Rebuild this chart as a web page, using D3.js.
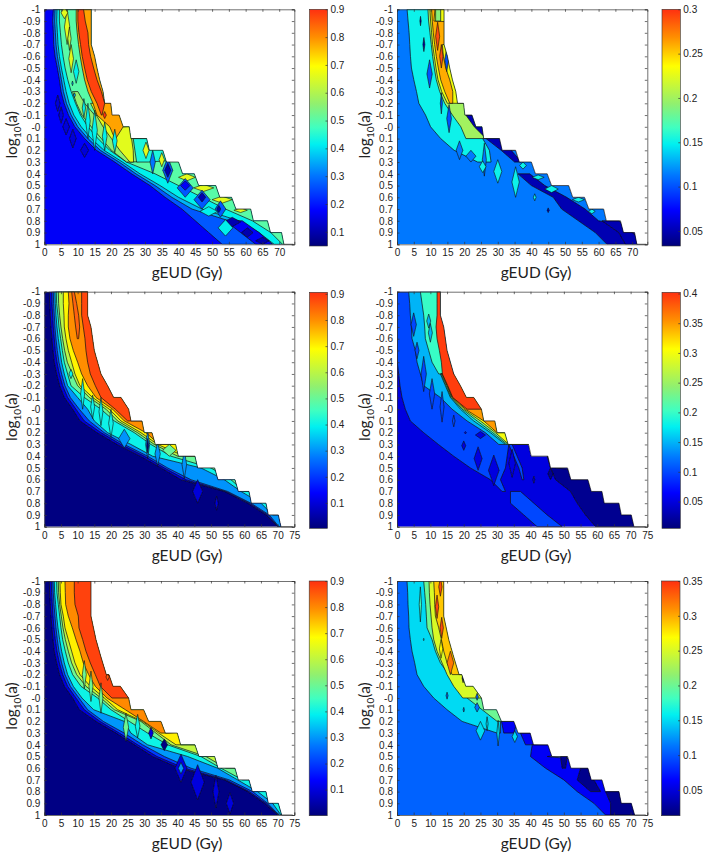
<!DOCTYPE html>
<html>
<head>
<meta charset="utf-8">
<script src="https://cdn.jsdelivr.net/npm/d3@7"></script>
<style>
  body { margin: 0; background: #fff; }
  svg { display: block; }
  .tick text { font-family: "Liberation Sans", Arial, sans-serif; font-size: 10px; fill: #222; font-weight: 500; }
  .axis path, .axis line { stroke: #333; stroke-width: 0.7; }
  .lab { font-family: Lato, "Open Sans", sans-serif; font-size: 15.5px; fill: #222; }
</style>
</head>
<body>
<script>
var rows = d3.range(21).map(function(i) { return -1 + i / 10; });
var yTickLabels = ["-1","-0.9","-0.8","-0.7","-0.6","-0.5","-0.4","-0.3","-0.2","-0.1","-0","0.1","0.2","0.3","0.4","0.5","0.6","0.7","0.8","0.9","1"];
var xTicksShort = [0,5,10,15,20,25,30,35,40,45,50,55,60,65,70];
var xTicksLong = [0,5,10,15,20,25,30,35,40,45,50,55,60,65,70,75];

// colour bar as printed (position 0-1 along the bar, colour)
var barPos = [0, 0.15, 0.3, 0.43, 0.5, 0.6, 0.76, 0.88, 1];
var barCol = ["#00007a", "#0000ff", "#0078ff", "#00f0f0", "#40ffc0", "#90f070", "#ffff00", "#ff9000", "#ff3010"];

// edge of the computed region, gEUD / log10(a)
var edgeTopX = [14,14,15,15.7,16.5,17.5,18,19.8,20.2,22.3,23.5,25.3,25.8,30.5,31.3,35.3,36.4,40,41.2,44.7,46,51.1,52.3,55.8,57.1,61.5,62.3,66.5,67.4,70.7,71.4,74.2];
var edgeTopY = [-1,-0.7,-0.6,-0.5,-0.4,-0.3,-0.2,-0.2,-0.1,-0.1,0,0,0.1,0.1,0.2,0.2,0.3,0.3,0.4,0.4,0.5,0.5,0.6,0.6,0.7,0.7,0.8,0.8,0.9,0.9,1,1];
var edgeMidX = [13,13,14,15,17,19,20.8,23,25.3,26,29.3,30,32.3,33.3,39.4,40.2,45.2,46,51.1,52.1,57.2,58.2,61.4,62.1,66.5,67.2,70.2,71,74.5];
var edgeMidY = [-1,-0.8,-0.7,-0.5,-0.3,-0.2,-0.1,-0.1,0,0.1,0.1,0.2,0.2,0.3,0.3,0.4,0.4,0.5,0.5,0.6,0.6,0.7,0.7,0.8,0.8,0.9,0.9,1,1];
var edgeLowX = [14,14,15.5,17,18.6,19.4,20.6,22.8,25.3,26,29.8,31.3,35,36.3,39.9,40.9,45.2,46.4,51.1,52.1,57.2,58.2,61.4,62.4,66.5,67.2,70.2,71.2,74.5];
var edgeLowY = [-1,-0.7,-0.5,-0.35,-0.2,-0.2,-0.1,-0.1,0,0.1,0.1,0.2,0.2,0.3,0.3,0.4,0.4,0.5,0.5,0.6,0.6,0.7,0.7,0.8,0.8,0.9,0.9,1,1];

// contour layers: level, first row index, left edge per row, right edge per row (null = runs to the region edge)
var p1Base = 0.17;
var p1Layers = [
  [0.27,0,[2.7,2.5,2.7,2.8,3.2,3.9,4.5,5,5.9,7.2,9.1,12,15.5,21,26,31.5,36,41,45,49,53]],
  [0.36,0,[3.2,3.1,3.3,3.5,3.9,4.5,5.1,5.7,6.6,8,10,13,16.7,22.3,27.3,33,38,44,55,62,67]],
  [0.42,0,[3.8,3.7,3.9,4.1,4.5,5.1,5.8,6.5,7.4,8.8,11,14,17.8,23.3,28.5,34.5,40,47,58,64,68.5]],
  [0.5,0,[4.5,4.5,4.8,5.1,5.6,6.2,7,8,9.3,10.8,13,16,19.5,24.5,33,40,47,54,62,67.5,71]],
  [0.56,7,[8.4,9.6,11.2,14,17,20,24.5],[10,12,15,null,null,null,26]],
  [0.66,8,[13.8,15.5,17.5,20,22.5,25.5],[null,null,null,26,26.5,26.6]],
  [0.44,11,[26.5,27,27.5],[null,null,31]],
  [0.78,0,[9.5,9.5,9.8,10.2,10.7,11.3,12,13,14.5,15.7,19.5,21],[null,null,null,null,null,null,null,null,null,null,23.5,21.3]],
  [0.88,0,[10,10,10.3,10.8,11.3,12,12.8,14,15.7,17],[11.7,12.2,13,13.2,13.8,14.7,15.7,17,18,17.2]],
  [0.17,18,[54,58.5,63],[59,64,68]]
];
var p1Islands = [
  [0.66,6.8,-0.85,0.8,0.15],[0.66,8,-0.58,0.7,0.12],[0.66,6,-0.97,1,0.05],[0.62,7.5,-0.75,0.5,0.1],
  [0.42,9.5,-0.47,0.8,0.1],[0.36,8.4,-0.37,0.2,0.02],[0.36,9,-0.27,0.3,0.02],[0.42,11.8,-0.16,0.5,0.08],
  [0.42,13,-0.05,0.7,0.15],[0.42,15,0.03,0.8,0.17],[0.42,18,0.08,0.7,0.12],[0.42,21,0.12,0.7,0.1],
  [0.14,4,-0.2,0.7,0.07],[0.14,5,-0.1,0.7,0.07],[0.14,6.5,0,1,0.07],[0.14,8.5,0.1,1,0.08],[0.14,12,0.2,1.2,0.06],
  [0.66,30.3,0.2,0.9,0.07],[0.66,35,0.28,0.8,0.06],[0.66,42.5,0.43,2.5,0.03],[0.66,47.5,0.52,3,0.03],[0.66,53,0.62,3,0.03],[0.66,58.5,0.71,2,0.02],
  [0.3,32.3,0.3,0.8,0.1],[0.27,36.8,0.37,1.5,0.11],[0.1,36.8,0.37,0.9,0.06],[0.27,42,0.52,2.4,0.08],[0.17,42,0.5,1.4,0.04],
  [0.27,47,0.62,2.4,0.08],[0.1,47,0.6,1.1,0.04],[0.27,52.5,0.7,1.6,0.07],[0.1,52,0.7,0.6,0.03],
  [0.1,56,0.81,2.5,0.04],[0.1,60.5,0.9,1.7,0.04],[0.1,65,0.97,2,0.03],
  [0.42,49,0.72,2.6,0.04],[0.42,54,0.86,2.2,0.07],[0.9,18,-0.1,0.5,0.03]
];

var p2Base = 0.113;
var p2Layers = [
  [0.15,0,[3,3.3,3.6,3.8,4,4.3,5,5.8,6.5,8.5,10,13,17,24],[null,null,null,null,null,null,null,null,null,null,null,25.5,27.5,28]],
  [0.2,0,[9.2,9.4,9.8,10.2,10.6,11.1,11.7,12.7,14.2,16.5,19,20.5]],
  [0.23,0,[9.8,10,10.3,10.6,11.1,11.6,12.2,13.3,15]],
  [0.26,0,[10.3,10.5,10.8,11.2,11.7,12.3,13,14.2,15.7],[11.3,11,null,13.5,13.8,14.5,15.7,16.6,16.6]],
  [0.19,0,[11.5,11.5],[13,13]],
  [0.05,9,[20.5,23,26.5,31,35],[22.6,25.3,null,34,37]],
  [0.05,14,[36,40,46.5,49,54,59,62.5],[39.5,44,50.5,56,60,null,null]],
  [0.05,18,[61,66,68],[66,70,74]]
];
var p2Islands = [
  [0.05,7,-0.9,0.2,0.04],[0.05,8,-0.7,0.3,0.06],[0.1,9.7,-0.45,0.8,0.12],[0.1,13.2,-0.2,0.3,0.09],
  [0.1,15.5,-0.07,0.7,0.12],[0.1,14.8,-0.57,0.6,0.1],[0.29,12.1,-0.77,0.6,0.12],[0.29,13.2,-0.6,0.5,0.1],
  [0.113,18.6,0.2,1,0.08],[0.113,26,0.28,0.6,0.14],[0.113,22,0.25,1.5,0.05],
  [0.15,25.5,0.34,1,0.05],[0.15,30,0.38,1.2,0.1],[0.15,35.3,0.47,1.1,0.13],[0.15,37.5,0.33,1,0.03],
  [0.15,42,0.43,1.8,0.02],[0.15,46,0.53,2,0.03],[0.15,54,0.62,1.8,0.02],[0.15,58,0.72,1,0.02],[0.15,41,0.6,0.4,0.03],[0.05,45,0.71,0.3,0.02]
];

var p3Base = 0.01;
var p3Layers = [
  [0.1,0,[1.5,1.6,1.8,2,2.3,2.6,3,3.7,4.6,6,8.5,10.7,15.8,21.8,28.8,35,41,54,61,66.5,70]],
  [0.2,0,[2.2,2.3,2.5,2.7,3,3.3,3.8,4.5,5.5,7,9.5,12,17,23,30,36,42.5,54.5,61.5,67,70.2]],
  [0.3,0,[2.7,2.8,3,3.2,3.5,3.9,4.4,5.2,6.2,7.8,10.5,13.5,18,24,31,37,44,55,62,67.5,70.4]],
  [0.4,0,[3.2,3.3,3.5,3.8,4.2,4.7,5.2,6,7,10,13,15,19,26,32.5,47,54,59,65,68.5]],
  [0.5,0,[3.6,3.7,4.1,4.4,4.9,5.4,6,7,8,12,17,21,27,32,38,50,56,60]],
  [0.6,0,[4.2,4.3,4.6,5,5.5,6.1,6.9,8.4,10,13.5,18.5,22,28,33,40]],
  [0.7,0,[5.7,5.7,5.9,6,6.5,7.2,8.2,9.2,10.7,14.5,19.5,23,29,34,42]],
  [0.8,0,[7.2,7.4,7.2,7.2,7.7,8.7,10,11.2,13,15.5,20.5,24,30.5,34.5],[null,null,null,null,null,null,null,null,null,null,null,null,null,36.5]],
  [0.88,0,[11.2,11.2,11.2,11.7,12.2,12.5,13,13.8,15.3,17,21.3,25]],
  [0.85,0,[8.2,8.6,9,9.4,9.9],[9,9.7,10.3,10.6,10.3]]
];
var p3Islands = [
  [0.3,24,0.25,1.7,0.08],[0.4,11.5,-0.13,0.6,0.13],[0.4,8,-0.3,0.6,0.04],[0.4,14.5,-0.02,0.6,0.1],[0.4,17,0.02,0.6,0.12],
  [0.4,20,0.12,0.7,0.12],[0.3,31,0.3,0.6,0.12],[0.3,34,0.38,0.8,0.1],[0.3,42,0.47,0.7,0.12],
  [0.1,46,0.7,1.5,0.1],[0.1,51.7,0.8,0.5,0.06],[0.01,31,0.31,0.3,0.06],[0.5,37.5,0.35,2,0.05]
];

var p4Base = 0.05;
var p4Layers = [
  [0.1,0,[0,0,0,0,0,0,0.1,0.5,0.9,1.5,2.5,4,8,12.4,17,22,28,31.5],[null,null,null,null,null,null,null,null,null,null,null,null,null,33.5,33,32.5,31,32.5]],
  [0.015,14,[45,46,47.5,52,54,56.5,59.5],[45.5,47.5,null,null,null,null,null]],
  [0.1,17,[34,34,38,42],[37,41,45,49.5]],
  [0.15,0,[3.5,3.8,4,4.3,4.5,5.5,6,7,8,13,16.5,21,26.5,30.5]],
  [0.2,0,[7,7.5,8,8.3,8.5,9.5,10.5,12.5],[null,null,null,null,null,null,null,13.5]],
  [0.18,7,[13,14.5,16,19,23,28,32.5]],
  [0.23,7,[13.2,14.7,16.2,19.5,24,28.7,33]],
  [0.3,7,[13.4,15,16.4,20,25,29.5,33.5]],
  [0.35,7,[13.6,15.1,16.6,20.5,26,30]],
  [0.395,0,[12,12,12,11.7,12,12.7,13.3,13.6,15.2,16.7,21]],
  [0.1,13,[33.5,35,36.5,37.5],[34.5,36,37.5,38]]
];
var p4Islands = [
  [0.1,5,-0.72,0.8,0.1],[0.1,6,-0.5,0.6,0.07],[0.1,8,-0.3,0.8,0.15],[0.1,10.5,-0.13,0.8,0.13],[0.1,13.5,-0.02,0.6,0.13],[0.1,17,0.1,0.4,0.05],
  [0.15,9.5,-0.75,0.6,0.06],[0.15,10,-0.65,0.6,0.08],[0.05,20.5,0.2,0.3,0.01],[0.05,25,0.22,1.5,0.03],
  [0.05,20,0.31,0.6,0.04],[0.05,24.3,0.42,1.2,0.1],[0.05,29,0.52,1.6,0.13],[0.05,34.5,0.46,1,0.12],[0.05,41,0.6,0.3,0.03],[0.015,46,0.55,0.8,0.05]
];

var p5Base = 0.01;
var p5Layers = [
  [0.1,0,[1.5,1.6,1.8,2,2.3,2.6,3,3.7,4.6,6,8.5,10.5,15.5,21.5,27,32.5,40.5,54,61,66,70]],
  [0.2,0,[2.1,2.2,2.4,2.6,2.9,3.3,3.8,4.5,5.5,7,9.5,12,16.7,22.5,28,33.8,42,54.5,61.5,66.5,70.2]],
  [0.3,0,[2.6,2.7,2.9,3.2,3.5,3.9,4.4,5.2,6.2,7.8,10.4,13,17.7,24,29.5,36,44,55.5,62.5,67,70.4]],
  [0.4,0,[3,3.1,3.4,3.7,4.1,4.6,5.2,6,7,8.7,11.3,14.8,24,26,31,43,52,58,64,68.5,71]],
  [0.5,0,[3.7,3.8,4.2,4.6,5,5.5,6.3,7.2,8.5,11,16,20,25.5,31,37,47,53,59.5]],
  [0.6,0,[4.2,4.3,4.6,5.1,5.6,6.3,7.2,8.2,9.7,12.5,17,21,29,33.5,38,48.5,54.5]],
  [0.7,0,[4.7,4.8,5,5.7,6.2,7.2,8.2,9.2,10.7,13.8,18,22,29.5,34.3,39.5]],
  [0.8,0,[6.2,6.3,6.4,7.2,8.4,9.5,10.7,11.7,13.3,15.3,18.8,24.3,29.8,35],[null,null,null,null,null,null,null,null,null,null,null,null,null,37]],
  [0.88,0,[9,9,9.2,10.2,10.4,11.5,12.5,13.8,15.3,16.8,20.3]]
];
var p5Islands = [
  [0.1,41,0.6,1.8,0.12],[0.3,41,0.6,0.8,0.05],[0.1,46,0.72,2,0.15],[0.1,51.5,0.8,0.9,0.14],[0.1,55.7,0.9,1.1,0.09],
  [0.01,36,0.4,1,0.05],[0.1,32,0.3,0.7,0.05],[0.4,28,0.24,0.7,0.1],[0.5,12,-0.2,0.6,0.12],[0.5,14,-0.1,0.6,0.13],[0.5,17,0,0.6,0.13],[0.5,24.5,0.25,0.8,0.12],
  [0.85,19,-0.18,0.5,0.03]
];

var p6Base = 0.105;
var p6Layers = [
  [0.15,0,[3,3.2,3.3,3.5,3.6,4,4.5,5.3,6,8,11,15,19.5,30],[null,null,null,null,null,null,null,null,null,null,null,null,31,31]],
  [0.2,0,[8,8.3,8.6,8.8,9,10.5,11.5,13,15.5,18.5,21,25.5,30]],
  [0.25,0,[9.6,9.7,9.9,10.2,10.5,11,12,13.5,15,17,19.7]],
  [0.29,0,[11,11.2,11.3,11.5,12.5,13.3,14,15,16.5]],
  [0.06,12,[31.3,32],[36,35]],
  [0.06,13,[37,38.5],[null,40]],
  [0.06,14,[40.5,40,44.5,50,54,59,62.5],[null,45,null,null,null,null,null]],
  [0.02,15,[49,49.5],[51,50.5]],
  [0.02,16,[55,54,58],[57.5,59,61]],
  [0.02,18,[62.5,64,64],[null,null,null]]
];
var p6Islands = [
  [0.18,7,-0.8,0.35,0.15],[0.105,15,-0.02,0.3,0.03],[0.105,24,-0.01,0.4,0.03],[0.11,24,0.08,0.7,0.04],[0.105,20,0.1,0.2,0.02],
  [0.15,25,0.28,1.3,0.08],[0.15,30.3,0.3,0.4,0.11],[0.15,27,0.22,0.3,0.06],[0.15,35.3,0.33,0.8,0.05],
  [0.34,13,-0.95,0.5,0.08],[0.34,12,-0.78,0.5,0.1],[0.34,13.4,-0.6,0.5,0.09],[0.27,13.2,-0.42,0.5,0.08],[0.02,19.8,-0.17,0.3,0.04],[0.32,16,-0.3,1,0.1],
  [0.15,8,-0.5,0.1,0.01]
];

var width = 704, height = 855;
var svg = d3.select("body").append("svg").attr("width", width).attr("height", height);
var defs = svg.append("defs");

// slight softening, the source picture is a scaled bitmap
var soft = defs.append("filter").attr("id", "soft").attr("x", "-5%").attr("y", "-5%").attr("width", "110%").attr("height", "110%");
soft.append("feGaussianBlur").attr("stdDeviation", 0.45);

var barScale = d3.scaleLinear().domain(barPos).range(barCol);

var grad = defs.append("linearGradient").attr("id", "bar")
    .attr("x1", 0).attr("y1", 1).attr("x2", 0).attr("y2", 0);
barPos.forEach(function(p, i) {
  grad.append("stop").attr("offset", p).attr("stop-color", barCol[i]);
});

function drawPanel(id, o) {
  var x = d3.scaleLinear().domain([0, o.xMax]).range([o.left, o.right]);
  var y = d3.scaleLinear().domain([-1, 1]).range([o.top, o.bottom]);
  var t = d3.scaleLinear().domain(o.range).range([0, 1]);
  var colour = function(v) { return barScale(t(v)); };
  var line = d3.line().x(function(d) { return x(d[0]); }).y(function(d) { return y(d[1]); });

  // region below the edge
  var region = o.edgeX.map(function(v, i) { return [v, o.edgeY[i]]; });
  region.unshift([0, -1]);
  region.push([0, 1]);

  var plot = svg.append("g").attr("filter", "url(#soft)");
  defs.append("clipPath").attr("id", "clip" + id).append("path").attr("d", line(region) + "Z");
  var marks = plot.append("g").attr("clip-path", "url(#clip" + id + ")");

  marks.append("path").attr("d", line(region) + "Z").attr("fill", colour(o.base));

  o.layers.forEach(function(l) {
    var lefts = l[2].map(function(v, i) { return [v, rows[l[1] + i]]; });
    var rights = l[2].map(function(v, i) {
      var r = l[3] ? l[3][i] : null;
      return [r == null ? 80 : r, rows[l[1] + i]];
    }).reverse();
    marks.append("path")
        .attr("d", line(lefts.concat(rights)) + "Z")
        .attr("fill", colour(l[0]))
        .attr("stroke", "#111")
        .attr("stroke-width", 0.7);
  });

  marks.selectAll("path.island").data(o.islands).enter().append("path")
      .attr("class", "island")
      .attr("d", function(d) {
        return line([[d[1] - d[3], d[2]], [d[1], d[2] - d[4]], [d[1] + d[3], d[2]], [d[1], d[2] + d[4]]]) + "Z";
      })
      .attr("fill", function(d) { return colour(d[0]); })
      .attr("stroke", "#111")
      .attr("stroke-width", 0.6);

  plot.append("path")
      .attr("d", line(o.edgeX.map(function(v, i) { return [v, o.edgeY[i]]; })))
      .attr("fill", "none").attr("stroke", "#111").attr("stroke-width", 0.7);

  // box and ticks on all sides
  var fmt = function(d) { return yTickLabels[Math.round((d + 1) * 10)]; };
  svg.append("g").attr("class", "axis").attr("transform", "translate(0," + o.bottom + ")")
      .call(d3.axisBottom(x).tickValues(o.xTicks).tickSize(-2.5).tickPadding(5).tickFormat(d3.format("d")));
  svg.append("g").attr("class", "axis").attr("transform", "translate(0," + o.top + ")")
      .call(d3.axisTop(x).tickValues(o.xTicks).tickSize(-2.5).tickFormat(""));
  svg.append("g").attr("class", "axis").attr("transform", "translate(" + o.left + ",0)")
      .call(d3.axisLeft(y).tickValues(rows).tickSize(-2.5).tickPadding(4).tickFormat(fmt));
  svg.append("g").attr("class", "axis").attr("transform", "translate(" + o.right + ",0)")
      .call(d3.axisRight(y).tickValues(rows).tickSize(-2.5).tickFormat(""));

  // axis titles
  svg.append("text").attr("class", "lab").attr("text-anchor", "middle")
      .attr("x", o.xLabel).attr("y", o.bottom + 34).text("gEUD (Gy)");
  var yl = svg.append("text").attr("class", "lab").attr("text-anchor", "middle")
      .attr("transform", "translate(" + (o.left - 27) + "," + ((o.top + o.bottom) / 2 + 8) + ") rotate(-90)");
  yl.append("tspan").text("log");
  yl.append("tspan").attr("font-size", 10).attr("dy", 4).text("10");
  yl.append("tspan").attr("dy", -4).text("(a)");

  // colour bar
  var cb = d3.scaleLinear().domain(o.range).range([o.barBottom, o.barTop]);
  svg.append("rect").attr("x", o.barLeft).attr("y", o.barTop)
      .attr("width", o.barWidth).attr("height", o.barBottom - o.barTop)
      .attr("fill", "url(#bar)").attr("stroke", "#333").attr("stroke-width", 0.6);
  svg.append("g").attr("class", "axis").attr("transform", "translate(" + (o.barLeft + o.barWidth) + ",0)")
      .call(d3.axisRight(cb).tickValues(o.barTicks).tickSize(-2).tickPadding(3).tickFormat(function(d) { return String(+d.toFixed(2)); }))
      .select(".domain").remove();
}

var tenth = [0.1,0.2,0.3,0.4,0.5,0.6,0.7,0.8,0.9];

drawPanel(1, { left: 44.3, right: 294.3, top: 9.3, bottom: 244.3, xMax: 74.5, xTicks: xTicksShort, xLabel: 187,
  edgeX: edgeTopX, edgeY: edgeTopY, base: p1Base, layers: p1Layers, islands: p1Islands, range: [0.049, 0.9],
  barLeft: 309.5, barWidth: 18, barTop: 9.3, barBottom: 246, barTicks: tenth });
drawPanel(2, { left: 397, right: 647.3, top: 9.3, bottom: 244.3, xMax: 74.5, xTicks: xTicksShort, xLabel: 536,
  edgeX: edgeTopX, edgeY: edgeTopY, base: p2Base, layers: p2Layers, islands: p2Islands, range: [0.033, 0.3],
  barLeft: 662, barWidth: 18.3, barTop: 9.3, barBottom: 246, barTicks: [0.05,0.1,0.15,0.2,0.25,0.3] });
drawPanel(3, { left: 44.3, right: 294.3, top: 291.7, bottom: 526.7, xMax: 75, xTicks: xTicksLong, xLabel: 187,
  edgeX: edgeMidX, edgeY: edgeMidY, base: p3Base, layers: p3Layers, islands: p3Islands, range: [0.003, 0.906],
  barLeft: 309.5, barWidth: 18, barTop: 292.3, barBottom: 528.3, barTicks: tenth });
drawPanel(4, { left: 397, right: 647.3, top: 291.7, bottom: 526.7, xMax: 75, xTicks: xTicksLong, xLabel: 536,
  edgeX: edgeMidX, edgeY: edgeMidY, base: p4Base, layers: p4Layers, islands: p4Islands, range: [0.005, 0.402],
  barLeft: 662, barWidth: 18.3, barTop: 292.3, barBottom: 528.3, barTicks: [0.05,0.1,0.15,0.2,0.25,0.3,0.35,0.4] });
drawPanel(5, { left: 44.3, right: 294.3, top: 581, bottom: 815, xMax: 75, xTicks: xTicksLong, xLabel: 187,
  edgeX: edgeLowX, edgeY: edgeLowY, base: p5Base, layers: p5Layers, islands: p5Islands, range: [0, 0.9],
  barLeft: 309.2, barWidth: 18, barTop: 581, barBottom: 815.7, barTicks: tenth });
drawPanel(6, { left: 397, right: 647.3, top: 581, bottom: 815, xMax: 75, xTicks: xTicksLong, xLabel: 536,
  edgeX: edgeLowX, edgeY: edgeLowY, base: p6Base, layers: p6Layers, islands: p6Islands, range: [0.013, 0.35],
  barLeft: 661.5, barWidth: 18.5, barTop: 581, barBottom: 815.7, barTicks: [0.05,0.1,0.15,0.2,0.25,0.3,0.35] });
</script>
</body>
</html>
